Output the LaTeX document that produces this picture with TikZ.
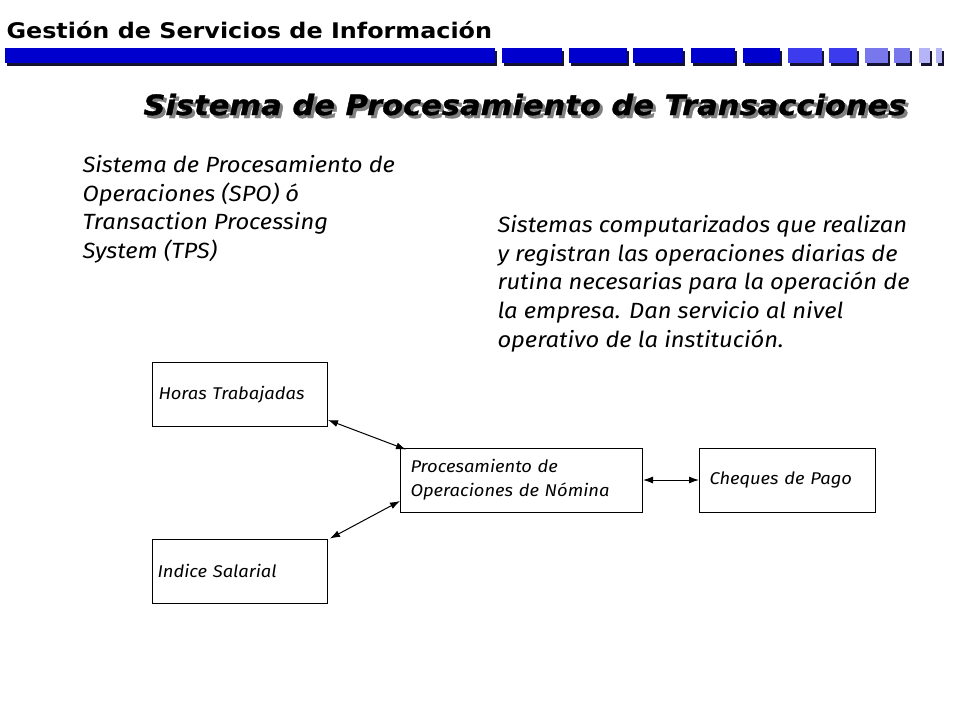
\documentclass[tikz,border=0pt]{standalone}
\usepackage{fontspec}
\setmainfont{Fira Sans}[FakeStretch=1.08]
\newfontfamily\cabecera{DejaVu Sans}[FakeStretch=1.11]
\newfontfamily\titfont{DejaVu Sans}[FakeStretch=1.09, FakeBold=1.2]
\usetikzlibrary{positioning, arrows.meta}

\definecolor{azulA}{RGB}{0,0,206}
\definecolor{azulB}{RGB}{60,60,238}
\definecolor{azulC}{RGB}{120,120,236}
\definecolor{azulD}{RGB}{180,180,246}
\definecolor{sombraBarra}{RGB}{20,20,50}

\newcommand{\consombra}[1]{\makebox[0pt][l]{\hspace{3pt}\raisebox{-3pt}{\textcolor{black!50}{#1}}}#1}

\begin{document}
\begin{tikzpicture}[x=1pt, y=-1pt, line width=1pt, >={Latex[length=10pt, width=7pt]},
    caja/.style={draw, rectangle, minimum height=64pt, inner xsep=6pt, align=left,
        font=\itshape\fontsize{17}{24}\selectfont},
    texto/.style={align=left, anchor=north west, inner sep=0pt,
        font=\itshape\fontsize{22}{28.6}\selectfont}]
    \useasboundingbox (0,0) rectangle (960,720);

    % cabecera
    \node[anchor=base west, inner sep=0pt, font=\cabecera\bfseries\fontsize{21.5}{24}\selectfont]
        (cabecera) at (6,38) {Gestión de Servicios de Información};
    \foreach \xa/\xb/\col in {5/495/azulA, 502/562/azulA, 569/627/azulA, 633/683/azulA,
        691/735/azulA, 743/780/azulA, 788/822/azulB, 829/857/azulB,
        865/888/azulC, 894/910/azulC, 919/930/azulD, 936/942/azulD} {
        \fill[sombraBarra] (\xa+2,51) rectangle (\xb+2,66);
        \fill[\col] (\xa,48) rectangle (\xb,63);
    }

    % titulo
    \node[anchor=base west, inner sep=0pt, font=\titfont\bfseries\itshape\fontsize{28}{30}\selectfont]
        (titulo) at (143,115) {\consombra{Sistema de Procesamiento de Transacciones}};

    % textos
    \node[texto] (spo) at (82,155) {Sistema de Procesamiento de\\Operaciones (SPO) ó\\Transaction Processing\\System (TPS)};
    \node[texto] (def) at (497,215) {Sistemas computarizados que realizan\\y registran las operaciones diarias de\\rutina necesarias para la operación de\\la empresa. Dan servicio al nivel\\operativo de la institución.};

    % diagrama
    \node[caja, text width=163pt, anchor=west] (horas) at (152,394.5) {Horas Trabajadas};
    \node[caja, text width=165pt, inner xsep=5pt] (indice) [below=111.5pt of horas] {Indice Salarial};
    \node[caja, text width=222pt, inner xsep=10pt]
        (proc) [below right=20.5pt and 72pt of horas] {Procesamiento de\\Operaciones de Nómina};
    \node[caja, text width=156pt, inner xsep=10pt] (cheques) [right=56pt of proc] {Cheques de Pago};

    \draw[<->] ([yshift=7pt]horas.south east) -- ([xshift=6pt, yshift=-2pt]proc.north west);
    \draw[<->] ([xshift=2pt]indice.north east) -- ([yshift=-21pt]proc.west);
    \draw[<->] (proc) -- (cheques);

\end{tikzpicture}
\end{document}
